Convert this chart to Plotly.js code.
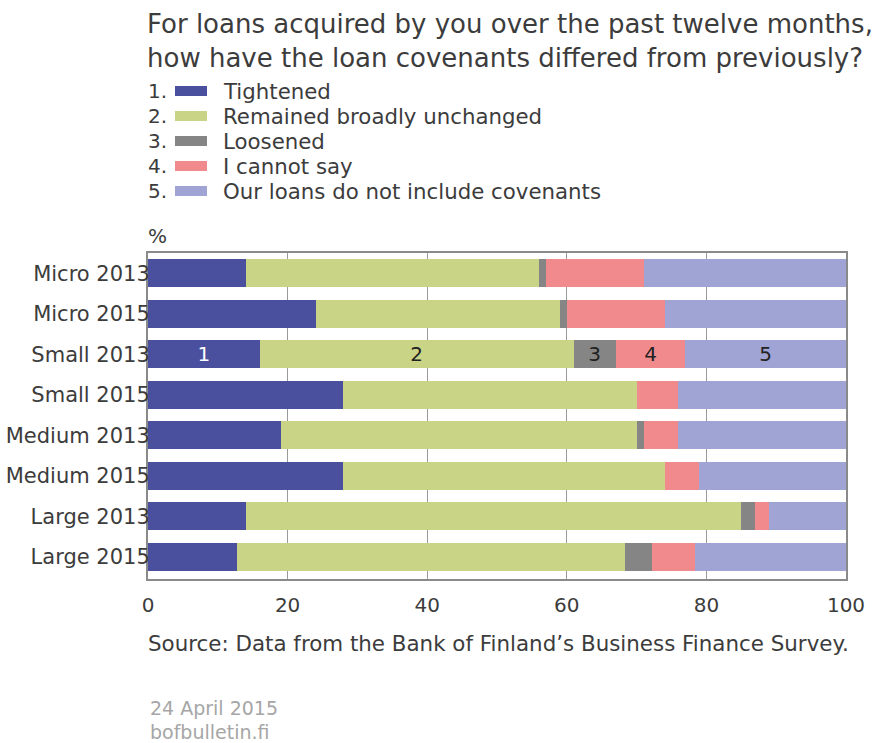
<!DOCTYPE html>
<html>
<head>
<meta charset="utf-8">
<script src="https://cdn.plot.ly/plotly-3.0.1.min.js"></script>
<style>html,body{margin:0;padding:0;background:#fff;}#chart{width:884px;height:743px;}</style>
</head>
<body>
<div id="chart"></div>
<script>
const categories = ["Micro 2013","Micro 2015","Small 2013","Small 2015","Medium 2013","Medium 2015","Large 2013","Large 2015"];
const seriesNames = ["Tightened","Remained broadly unchanged","Loosened","I cannot say","Our loans do not include covenants"];
const tightened  = [14, 24, 16, 28, 19, 28, 14, 12.8];
const unchanged  = [42, 35, 45, 42, 51, 46, 71, 55.6];
const loosened   = [1, 1, 6, 0, 1, 0, 2, 3.8];
const cannotSay  = [14, 14, 10, 6, 5, 5, 2, 6.2];
const noCovenant = [29, 26, 23, 24, 24, 21, 11, 21.6];
const segmentLabels = ["1","2","3","4","5"];
const labelledCategory = "Small 2013";
const xTicks = [0, 20, 40, 60, 80, 100];

const seriesValues = [tightened, unchanged, loosened, cannotSay, noCovenant];
const colors = ["#4a4f9e", "#c9d486", "#858585", "#f08a8d", "#a0a4d4"];
const textColors = ["#ffffff", "#222222", "#222222", "#222222", "#222222"];
const FONT = "DejaVu Sans, Verdana, sans-serif";
const TXT = "#3c3c3c";

const traces = seriesValues.map((vals, i) => ({
  type: "bar",
  orientation: "h",
  name: seriesNames[i],
  y: categories,
  x: vals,
  marker: {color: colors[i], line: {width: 0}},
  width: 0.7,
  text: categories.map(c => c === labelledCategory ? segmentLabels[i] : ""),
  textposition: "inside",
  insidetextanchor: "middle",
  textangle: 0,
  constraintext: "none",
  textfont: {family: FONT, size: 20, color: textColors[i]},
  hoverinfo: "skip",
  showlegend: false
}));

// pixel -> paper helpers for the plot frame (legend, notes)
const plotLeft = 148, plotRight = 846, plotTop = 253, plotBottom = 579;
const px = x => (x - plotLeft) / (plotRight - plotLeft);
const py = y => (plotBottom - y) / (plotBottom - plotTop);

const annotations = [];
const shapes = [];
seriesNames.forEach((name, i) => {
  const cy = 91 + i * 25;
  annotations.push({
    xref: "paper", yref: "paper", x: px(146), y: py(cy),
    xanchor: "left", yanchor: "middle", showarrow: false,
    text: segmentLabels[i] + ".", font: {family: FONT, size: 20, color: TXT}
  });
  shapes.push({
    type: "rect", xref: "paper", yref: "paper",
    x0: px(175), x1: px(207), y0: py(cy - 5), y1: py(cy + 5),
    fillcolor: colors[i], line: {width: 0}
  });
  annotations.push({
    xref: "paper", yref: "paper", x: px(221), y: py(cy),
    xanchor: "left", yanchor: "middle", showarrow: false,
    text: name, font: {family: FONT, size: 21.3, color: TXT}
  });
});
annotations.push({xref:"paper", yref:"paper", x:px(146), y:py(236), xanchor:"left", yanchor:"middle", showarrow:false,
  text:"%", font:{family:FONT, size:20, color:TXT}});
annotations.push({xref:"paper", yref:"paper", x:px(146), y:py(643), xanchor:"left", yanchor:"middle", showarrow:false,
  text:"Source: Data from the Bank of Finland’s Business Finance Survey.", font:{family:FONT, size:21.4, color:TXT}});
annotations.push({xref:"paper", yref:"paper", x:px(148), y:py(708), xanchor:"left", yanchor:"middle", showarrow:false,
  text:"24 April 2015", font:{family:FONT, size:19, color:"#a6a6a6"}});
annotations.push({xref:"paper", yref:"paper", x:px(148), y:py(732), xanchor:"left", yanchor:"middle", showarrow:false,
  text:"bofbulletin.fi", font:{family:FONT, size:19, color:"#a6a6a6"}});

const layout = {
  width: 884, height: 743,
  margin: {l: plotLeft, r: 884 - plotRight, t: plotTop, b: 743 - plotBottom, autoexpand: false},
  paper_bgcolor: "#ffffff", plot_bgcolor: "#ffffff",
  barmode: "stack",
  showlegend: false,
  title: {
    text: "For loans acquired by you over the past twelve months,<br>how have the loan covenants differed from previously?",
    font: {family: FONT, size: 26, color: TXT},
    xref: "container", yref: "container", x: 147/884, xanchor: "left",
    y: 1 - 33/743, yanchor: "top"
  },
  xaxis: {
    range: [0, 100], tickvals: xTicks, ticktext: xTicks.map(String),
    showgrid: true, gridcolor: "#9a9a9a", gridwidth: 1,
    zeroline: false, showline: true, linecolor: "#8a8a8a", linewidth: 2, mirror: true,
    ticks: "", tickfont: {family: FONT, size: 20, color: TXT},
    ticklabelstandoff: 7,
    fixedrange: true
  },
  yaxis: {
    type: "category", categoryorder: "array", categoryarray: categories,
    range: [7.55, -0.5],
    showgrid: false, zeroline: false, showline: true, linecolor: "#8a8a8a", linewidth: 2, mirror: true,
    ticks: "", tickfont: {family: FONT, size: 21, color: TXT},
    ticklabelstandoff: -8,
    layer: "below traces",
    fixedrange: true
  },
  shapes: shapes,
  annotations: annotations
};

Plotly.newPlot("chart", traces, layout, {displayModeBar: false, staticPlot: true});
</script>
</body>
</html>
